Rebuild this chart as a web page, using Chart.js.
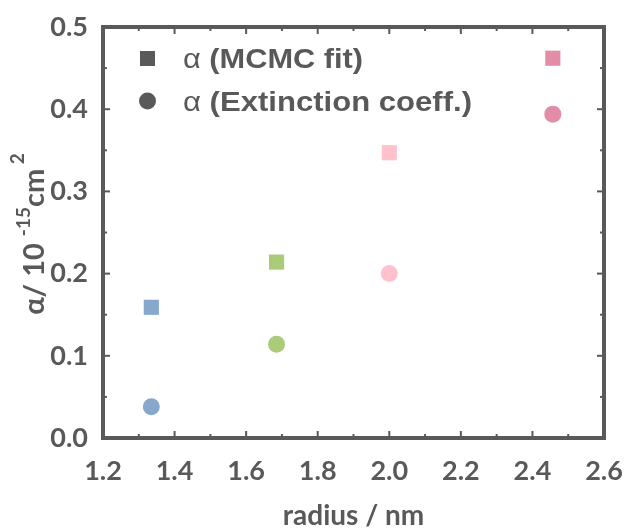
<!DOCTYPE html>
<html>
<head>
<meta charset="UTF-8">
<title>alpha vs radius</title>
<script src="https://cdn.jsdelivr.net/npm/chart.js"></script>
<style>
  html, body { margin: 0; padding: 0; background: #fff; }
  #wrap { width: 634px; height: 528px; }
</style>
</head>
<body>
<div id="wrap"><canvas id="c"></canvas></div>
<script>
// data
const radius = [1.335, 1.685, 2.0, 2.457];
const alphaMcmc = [0.159, 0.214, 0.347, 0.462];
const alphaExt = [0.038, 0.114, 0.200, 0.394];
const pointColors = ['#87a7cd', '#a9cb7a', '#ffc1cc', '#e28ca8'];
const xTicks = [1.2, 1.4, 1.6, 1.8, 2.0, 2.2, 2.4, 2.6];
const yTicks = [0.0, 0.1, 0.2, 0.3, 0.4, 0.5];
const legendLabels = ['(MCMC fit)', '(Extinction coeff.)'];
const xTitle = 'radius / nm';

const gray = '#595959';
const tickFont = { family: 'Lato, "Liberation Sans", sans-serif', size: 27, weight: 'bold' };

// one legend line: thin alpha, then bold label, stretched to the width seen in the figure
function legendLine(ctx, label, x, y, targetW) {
  const fa = '28px "Liberation Sans", Arial, sans-serif';
  const fb = 'bold 28px "Liberation Sans", Arial, sans-serif';
  ctx.font = fa;
  const wa = ctx.measureText('α ').width;
  ctx.font = fb;
  const wb = ctx.measureText(label).width;
  const k = targetW / (wa + wb);
  ctx.save();
  ctx.translate(x, y);
  ctx.scale(k, 1);
  ctx.font = fa;
  ctx.fillText('α ', 0, 0);
  ctx.font = fb;
  ctx.fillText(label, wa, 0);
  ctx.restore();
}

// inward ticks on all four sides + frame + legend + axis titles
const framePlugin = {
  id: 'frame',
  afterDraw(chart) {
    const { ctx, chartArea: a, scales } = chart;
    ctx.save();
    ctx.strokeStyle = gray;
    ctx.lineWidth = 2;
    const tick = (x1, y1, x2, y2) => { ctx.beginPath(); ctx.moveTo(x1, y1); ctx.lineTo(x2, y2); ctx.stroke(); };
    for (let i = 0; i < xTicks.length * 2 - 1; i++) {
      const v = xTicks[0] + i * 0.1;
      const px = scales.x.getPixelForValue(v);
      const len = i % 2 === 0 ? 7 : 4;
      tick(px, a.bottom, px, a.bottom - len);
      tick(px, a.top, px, a.top + len);
    }
    for (let i = 0; i < yTicks.length * 2 - 1; i++) {
      const v = yTicks[0] + i * 0.05;
      const py = scales.y.getPixelForValue(v);
      const len = i % 2 === 0 ? 7 : 4;
      tick(a.left, py, a.left + len, py);
      tick(a.right, py, a.right - len, py);
    }
    ctx.lineWidth = 4;
    ctx.strokeRect(a.left, a.top, a.right - a.left, a.bottom - a.top);

    // legend
    ctx.fillStyle = gray;
    ctx.fillRect(140, 51, 15, 15);
    ctx.beginPath();
    ctx.arc(147.5, 101, 8.5, 0, Math.PI * 2);
    ctx.fill();
    ctx.textBaseline = 'middle';
    ctx.textAlign = 'left';
    legendLine(ctx, legendLabels[0], 183, 60, 180);
    legendLine(ctx, legendLabels[1], 183, 103, 289);

    // x axis title
    ctx.font = 'bold 28px Lato, "Liberation Sans", sans-serif';
    ctx.textAlign = 'center';
    ctx.fillText(xTitle, (a.left + a.right) / 2, 516);

    // y axis title with superscripts
    ctx.textAlign = 'left';
    ctx.translate(35, 234);
    ctx.rotate(-Math.PI / 2);
    const big = 'bold 29px Lato, "Liberation Sans", sans-serif';
    const small = 'bold 19px Lato, "Liberation Sans", sans-serif';
    const parts = [['α/ 10 ', big, 0], ['-15', small, -11], ['cm', big, 0], [' 2', small, -17]];
    let w = 0;
    parts.forEach(p => { ctx.font = p[1]; w += ctx.measureText(p[0]).width; });
    let x = -w / 2;
    parts.forEach(p => { ctx.font = p[1]; ctx.fillText(p[0], x, p[2]); x += ctx.measureText(p[0]).width; });
    ctx.restore();
  }
};

const mkData = ys => radius.map((r, i) => ({ x: r, y: ys[i] }));

new Chart(document.getElementById('c'), {
  type: 'scatter',
  data: {
    datasets: [
      {
        label: 'α ' + legendLabels[0],
        data: mkData(alphaMcmc),
        pointStyle: 'rect',
        pointRadius: 10.7,
        pointHoverRadius: 10.7,
        backgroundColor: pointColors,
        borderWidth: 0
      },
      {
        label: 'α ' + legendLabels[1],
        data: mkData(alphaExt),
        pointStyle: 'circle',
        pointRadius: 8.5,
        pointHoverRadius: 8.5,
        backgroundColor: pointColors,
        borderWidth: 0
      }
    ]
  },
  options: {
    responsive: true,
    maintainAspectRatio: false,
    animation: false,
    layout: { padding: { top: 27, right: 30, left: 0, bottom: 0 } },
    plugins: { legend: { display: false }, tooltip: { enabled: false } },
    scales: {
      x: {
        type: 'linear',
        min: 1.2, max: 2.6,
        afterBuildTicks: s => { s.ticks = xTicks.map(v => ({ value: v })); },
        afterFit: s => { s.height = 90; },
        grid: { display: false },
        border: { display: false },
        ticks: { color: gray, font: tickFont, padding: 9, maxRotation: 0, callback: v => v.toFixed(1) }
      },
      y: {
        type: 'linear',
        min: 0, max: 0.5,
        afterBuildTicks: s => { s.ticks = yTicks.map(v => ({ value: v })); },
        afterFit: s => { s.width = 103; },
        grid: { display: false },
        border: { display: false },
        ticks: { color: gray, font: tickFont, padding: 7, callback: v => v.toFixed(1) }
      }
    }
  },
  plugins: [framePlugin]
});
</script>
</body>
</html>
